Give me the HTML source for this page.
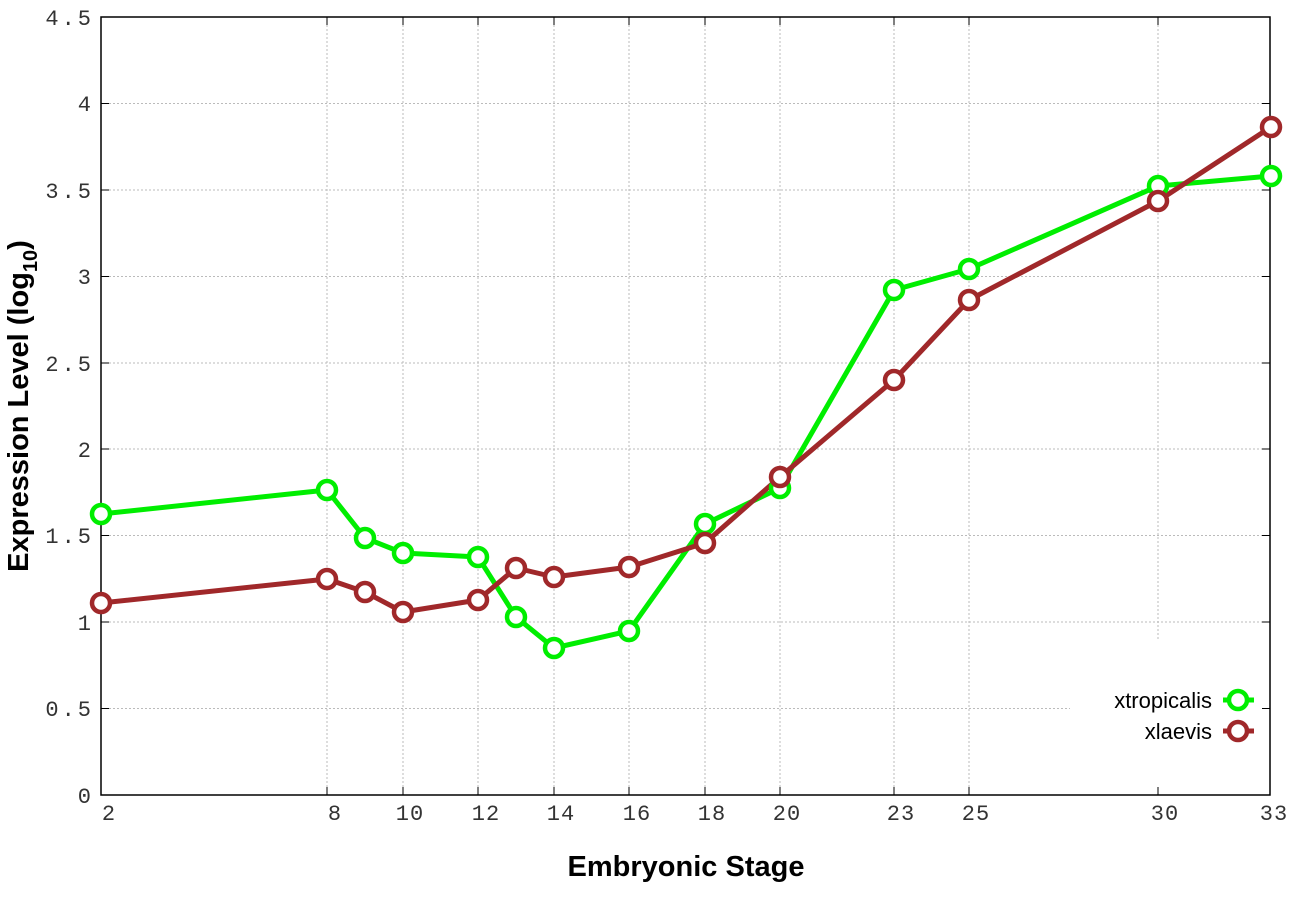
<!DOCTYPE html>
<html><head><style>body{margin:0;background:#fff}svg{display:block}</style></head><body>
<svg width="1296" height="907" xmlns="http://www.w3.org/2000/svg">
<g stroke="#bbb" stroke-width="1" stroke-dasharray="2,2">
<line x1="101" x2="1270" y1="103.5" y2="103.5"/><line x1="101" x2="1270" y1="190" y2="190"/><line x1="101" x2="1270" y1="276.5" y2="276.5"/><line x1="101" x2="1270" y1="363" y2="363"/><line x1="101" x2="1270" y1="449" y2="449"/><line x1="101" x2="1270" y1="535.5" y2="535.5"/><line x1="101" x2="1270" y1="622" y2="622"/><line x1="101" x2="1070" y1="708.5" y2="708.5"/>
<line x1="327" x2="327" y1="17" y2="795"/><line x1="403" x2="403" y1="17" y2="795"/><line x1="478" x2="478" y1="17" y2="795"/><line x1="554" x2="554" y1="17" y2="795"/><line x1="629" x2="629" y1="17" y2="795"/><line x1="705" x2="705" y1="17" y2="795"/><line x1="780" x2="780" y1="17" y2="795"/><line x1="894" x2="894" y1="17" y2="795"/><line x1="969" x2="969" y1="17" y2="795"/><line x1="1158" x2="1158" y1="17" y2="640"/>
</g>
<rect x="101" y="17" width="1169" height="778" fill="none" stroke="#000" stroke-width="1.5"/>
<g stroke="#000" stroke-width="1">
<path d="M101 103.5h8M101 190h8M101 276.5h8M101 363h8M101 449h8M101 535.5h8M101 622h8M101 708.5h8M1270 103.5h-8M1270 190h-8M1270 276.5h-8M1270 363h-8M1270 449h-8M1270 535.5h-8M1270 622h-8M1270 708.5h-8"/>
<path d="M327 795v-8M403 795v-8M478 795v-8M554 795v-8M629 795v-8M705 795v-8M780 795v-8M894 795v-8M969 795v-8M1158 795v-8M327 17v8M403 17v8M478 17v8M554 17v8M629 17v8M705 17v8M780 17v8M894 17v8M969 17v8M1158 17v8"/>
</g>
<g font-family="Liberation Mono, monospace" font-size="22" fill="#333" text-anchor="end" letter-spacing="3">
<text x="94" y="25">4.5</text><text x="94" y="111">4</text><text x="94" y="198">3.5</text><text x="94" y="284">3</text><text x="94" y="371">2.5</text><text x="94" y="457">2</text><text x="94" y="543">1.5</text><text x="94" y="630">1</text><text x="94" y="716">0.5</text><text x="94" y="803">0</text>
</g>
<g font-family="Liberation Mono, monospace" font-size="22" fill="#333" text-anchor="middle" letter-spacing="1">
<text x="109" y="820">2</text><text x="335" y="820">8</text><text x="410" y="820">10</text><text x="486" y="820">12</text><text x="561" y="820">14</text><text x="637" y="820">16</text><text x="712" y="820">18</text><text x="787" y="820">20</text><text x="901" y="820">23</text><text x="976" y="820">25</text><text x="1165" y="820">30</text><text x="1274" y="820">33</text>
</g>
<text x="686" y="876" font-family="Liberation Sans, sans-serif" font-weight="bold" font-size="29" text-anchor="middle">Embryonic Stage</text>
<text transform="translate(28,406) rotate(-90)" font-family="Liberation Sans, sans-serif" font-weight="bold" font-size="29" text-anchor="middle">Expression Level (log<tspan font-size="20" dy="9">10</tspan><tspan dy="-9">)</tspan></text>
<g fill="none" stroke-width="5" stroke-linejoin="round">
<polyline stroke="#00ee00" points="101,514 327,490 365,538 403,553 478,557 516,617 554,648 629,631 705,524 780,488 894,290 969,269 1158,186 1271,176"/>
<polyline stroke="#a0282a" points="101,603 327,579 365,592 403,612 478,600 516,568 554,577 629,567 705,543 780,477 894,380 969,300 1158,201 1271,127"/>
</g>
<g fill="#fff" stroke="#00ee00" stroke-width="4.5">
<circle cx="101" cy="514" r="9"/><circle cx="327" cy="490" r="9"/><circle cx="365" cy="538" r="9"/><circle cx="403" cy="553" r="9"/><circle cx="478" cy="557" r="9"/><circle cx="516" cy="617" r="9"/><circle cx="554" cy="648" r="9"/><circle cx="629" cy="631" r="9"/><circle cx="705" cy="524" r="9"/><circle cx="780" cy="488" r="9"/><circle cx="894" cy="290" r="9"/><circle cx="969" cy="269" r="9"/><circle cx="1158" cy="186" r="9"/><circle cx="1271" cy="176" r="9"/>
</g>
<g fill="#fff" stroke="#a0282a" stroke-width="4.5">
<circle cx="101" cy="603" r="9"/><circle cx="327" cy="579" r="9"/><circle cx="365" cy="592" r="9"/><circle cx="403" cy="612" r="9"/><circle cx="478" cy="600" r="9"/><circle cx="516" cy="568" r="9"/><circle cx="554" cy="577" r="9"/><circle cx="629" cy="567" r="9"/><circle cx="705" cy="543" r="9"/><circle cx="780" cy="477" r="9"/><circle cx="894" cy="380" r="9"/><circle cx="969" cy="300" r="9"/><circle cx="1158" cy="201" r="9"/><circle cx="1271" cy="127" r="9"/>
</g>
<g font-family="Liberation Sans, sans-serif" font-size="22" fill="#000" text-anchor="end">
<text x="1212" y="708">xtropicalis</text><text x="1212" y="739">xlaevis</text>
</g>
<line x1="1223" x2="1254" y1="700" y2="700" stroke="#00ee00" stroke-width="5"/>
<circle cx="1238" cy="700" r="9" fill="#fff" stroke="#00ee00" stroke-width="4.5"/>
<line x1="1223" x2="1254" y1="731" y2="731" stroke="#a0282a" stroke-width="5"/>
<circle cx="1238" cy="731" r="9" fill="#fff" stroke="#a0282a" stroke-width="4.5"/>
</svg>
</body></html>
